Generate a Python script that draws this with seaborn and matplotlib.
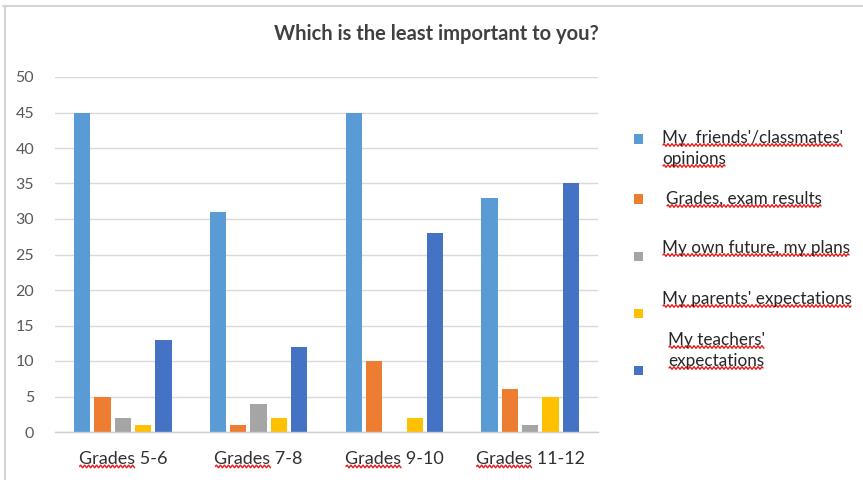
import numpy as np
import pandas as pd
import matplotlib
matplotlib.use("Agg")
import matplotlib.pyplot as plt
import seaborn as sns
from matplotlib.lines import Line2D
from matplotlib.patches import Rectangle

# ---- data -------------------------------------------------------------
grades = ["Grades 5-6", "Grades 7-8", "Grades 9-10", "Grades 11-12"]
series = [
    "My  friends'/classmates'\nopinions",
    "Grades, exam results",
    "My own future, my plans",
    "My parents' expectations",
    "My teachers'\nexpectations",
]
friends_opinions = [45, 31, 45, 33]
exam_results = [5, 1, 10, 6]
own_future = [2, 4, 0, 1]
parents_expectations = [1, 2, 2, 5]
teachers_expectations = [13, 12, 28, 35]
y_ticks = [0, 5, 10, 15, 20, 25, 30, 35, 40, 45, 50]
title = "Which is the least important to you?"

colors = ["#5B9BD5", "#ED7D31", "#A5A5A5", "#FFC000", "#4472C4"]

values = [friends_opinions, exam_results, own_future,
          parents_expectations, teachers_expectations]
df = pd.DataFrame(
    [(g, s, v[i]) for s, v in zip(series, values) for i, g in enumerate(grades)],
    columns=["grade", "answer", "count"],
)

# ---- figure -----------------------------------------------------------
sns.set_theme(style="white")
plt.rcParams["font.family"] = ["Lato", "DejaVu Sans"]

W, H = 863, 480
fig = plt.figure(figsize=(W / 100, H / 100), dpi=100)
fig.patch.set_facecolor("white")


def px_axes(x0, y0, x1, y1):
    return [x0 / W, 1 - y1 / H, (x1 - x0) / W, (y1 - y0) / H]


ax = fig.add_axes(px_axes(55, 77, 598, 432))
sns.barplot(
    data=df, x="grade", y="count", hue="answer", hue_order=series,
    order=grades, palette=colors, saturation=1, width=0.75, gap=0.2,
    edgecolor="none", legend=False, ax=ax,
)

ax.set_xlim(-0.5, len(grades) - 0.5)
ax.set_ylim(0, 50)
ax.set_yticks(y_ticks)
ax.set_yticklabels([str(t) for t in y_ticks])
ax.set_xlabel("")
ax.set_ylabel("")
ax.grid(axis="y", color="#D9D9D9", linewidth=1.0)
ax.set_axisbelow(True)
for side in ["top", "right", "left"]:
    ax.spines[side].set_visible(False)
ax.spines["bottom"].set_color("#D0D0D0")
ax.spines["bottom"].set_linewidth(1.0)
ax.tick_params(axis="y", length=0, pad=15, labelsize=11.5, labelcolor="#595959")
ax.tick_params(axis="x", length=0, pad=14, labelsize=13, labelcolor="#303030")

# title
fig.text(436 / W, 1 - 34 / H, title, ha="center", va="center",
         fontsize=14.5, fontweight="bold", color="#404040")

# outer frame (top and left edges)
fig.add_artist(Line2D([3 / W, 1], [1 - 6 / H, 1 - 6 / H],
                      transform=fig.transFigure, color="#D4D4D4", lw=1.5))
fig.add_artist(Line2D([5 / W, 5 / W], [0, 1 - 6 / H],
                      transform=fig.transFigure, color="#D4D4D4", lw=1.5))

# legend, laid out by hand
marker_y = [139, 199, 256, 313, 370]
text_x = [662, 666, 662, 662, 668]
text_y = [138, 199, 248, 299, 340]
line_gap = 21
legend_texts = []
for lab, col, my, tx, ty in zip(series, colors, marker_y, text_x, text_y):
    fig.add_artist(Rectangle((634 / W, 1 - (my + 4.5) / H), 9 / W, 9 / H,
                             transform=fig.transFigure, facecolor=col,
                             edgecolor="none"))
    for k, line in enumerate(lab.split("\n")):
        t = fig.text(tx / W, 1 - (ty + k * line_gap) / H, line,
                     ha="left", va="center", fontsize=12.3, color="#262626")
        legend_texts.append(t)

# red spell-check squiggles under words
fig.canvas.draw()
renderer = fig.canvas.get_renderer()


def squiggle(x0, x1, y):
    xs = np.arange(x0, x1 + 0.5, 1.0)
    ys = y + 1.3 * np.sin((xs - x0) * np.pi / 2.0)
    fig.add_artist(Line2D(xs / W, ys / H, transform=fig.transFigure,
                          color="#E81818", lw=1.0))


for t in legend_texts:
    bb = t.get_window_extent(renderer)
    squiggle(bb.x0 + 1, bb.x1 - 1, bb.y0 + 1)

for t in ax.get_xticklabels():
    bb = t.get_window_extent(renderer)
    probe = fig.text(0, 0, "Grades", fontsize=13, fontfamily=t.get_fontfamily())
    w = probe.get_window_extent(renderer).width
    probe.remove()
    squiggle(bb.x0 + 1, bb.x0 + w, bb.y0 + 1)

fig.savefig("out.png", dpi=100, facecolor="white")
